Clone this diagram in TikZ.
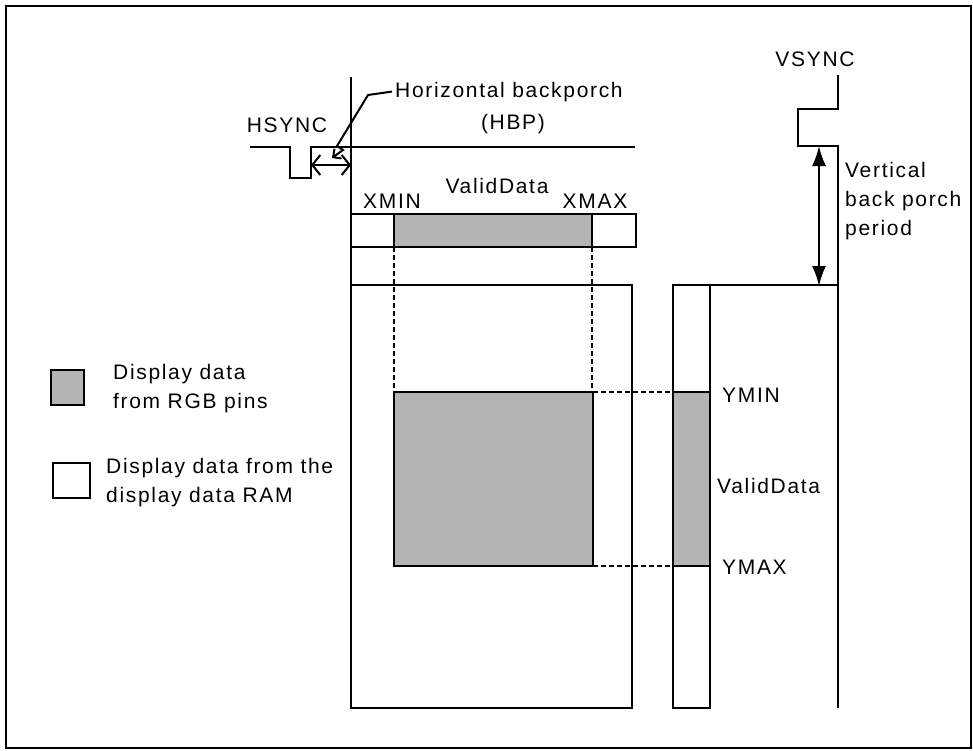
\documentclass[tikz,border=0pt]{standalone}
\usepackage{fontspec}
\setmainfont[LetterSpace=8]{Liberation Sans}
\usepackage{xcolor}
\usetikzlibrary{arrows.meta, positioning}
\definecolor{datagray}{RGB}{180,180,180}

\begin{document}
\begin{tikzpicture}[x=1pt, y=-1pt,
				line/.style={black, line width=2pt},
				datafill/.style={line, fill=datagray},
				guide/.style={black, line width=1.5pt, dash pattern=on 5pt off 3pt},
				label/.style={font=\fontsize{21}{29}\selectfont, inner sep=0pt, align=left},
				openarrow/.style={line, {Straight Barb[length=8pt,width=20pt]}-{Straight Barb[length=8pt,width=20pt]}},
				fillarrow/.style={line, {Latex[length=20pt,width=14pt]}-{Latex[length=20pt,width=14pt]}}
			]
			\useasboundingbox (0,0) rectangle (973,750);

			% Frame
			\draw[line] (6,6) rectangle (971,748);

			% Waveforms
			\draw[line] (250,147) -- (290,147) -- (290,178) -- (311,178) -- (311,147) -- (635,147);
			\draw[line] (351,77) -- (351,285);
			\draw[line] (838,75) -- (838,109) -- (798,109) -- (798,146) -- (838,146) -- (838,708);

			% Line bar
			\draw[line] (351,214) rectangle (636,247);
			\filldraw[datafill] (394,214) rectangle (592,247);

			% Screens
			\draw[line] (351,285) rectangle (632,708);
			\filldraw[datafill] (394,392) rectangle (593,566);
			\draw[line] (673,285) rectangle (710,708);
			\filldraw[datafill] (673,392) rectangle (710,566);
			\draw[line] (710,285) -- (838,285);

			% Guides
			\draw[guide] (394,247) -- (394,392);
			\draw[guide] (592,247) -- (592,392);
			\draw[guide] (593,392) -- (673,392);
			\draw[guide] (593,566) -- (673,566);

			% Legend
			\filldraw[datafill] (51,370) rectangle (84,405);
			\draw[line] (53,463) rectangle (90,498);

			% Nodes
			\node[label, anchor=base] (hsync) at (287,132) {HSYNC};
			\node[label, anchor=base west] (hbp) at (395,97) {Horizontal backporch};
			\node[label, anchor=base] (hbpabbr) at (513,129) {(HBP)};
			\node[label, anchor=base] (xmin) at (392,208) {XMIN};
			\node[label, anchor=base] (validx) at (497,193) {ValidData};
			\node[label, anchor=base] (xmax) at (595,208) {XMAX};
			\node[label, anchor=base] (vsync) at (815,66) {VSYNC};
			\node[label, anchor=base west] (vbp) at (845,235) {Vertical\\back porch\\period};
			\node[label, anchor=base west] (ymin) at (722,402) {YMIN};
			\node[label, anchor=base west] (validy) at (717,493) {ValidData};
			\node[label, anchor=base west] (ymax) at (722,574) {YMAX};
			\node[label, anchor=base west] (rgb) at (113,408) {Display data\\from RGB pins};
			\node[label, anchor=base west] (ram) at (106,502) {Display data from the\\display data RAM};

			% Arrows
			\coordinate (hbpL) at (311,165);
			\coordinate (hbpR) at (351,165);
			\coordinate (hbpTip) at (332,158);
			\coordinate (vbpT) at (819,146);
			\coordinate (vbpB) at (819,286);
			\draw[openarrow] (hbpL) -- (hbpR);
			\draw[line, -{Straight Barb[length=6pt,width=12pt]}] (hbp.west) ++(-3,0) -- (368,95) -- (337,146) -- (343,150) -- (hbpTip);
			\draw[fillarrow] (vbpT) -- (vbpB);

		\end{tikzpicture}
\end{document}
